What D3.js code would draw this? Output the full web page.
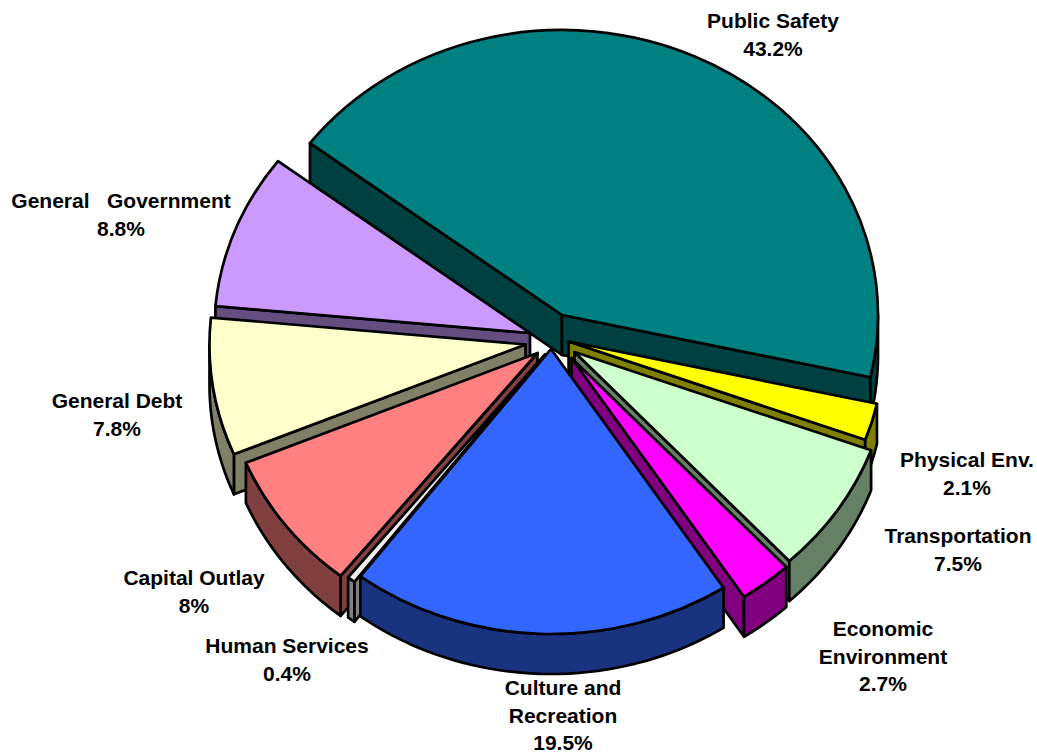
<!DOCTYPE html>
<html lang="en">

<head>
    <title>Expenditures by Function</title>
    <meta charset="UTF-8">
    <script src="https://d3js.org/d3.v7.min.js"></script>
    <style>
        body {
            margin: 0;
            background: #fff;
        }

        svg {
            display: block;
        }

        .label {
            font-family: "Liberation Sans", Arial, sans-serif;
            font-weight: bold;
            font-size: 21px;
            text-anchor: middle;
            white-space: pre;
        }

        .face {
            stroke: #000;
            stroke-width: 2.7px;
            stroke-linejoin: round;
            vector-effect: non-scaling-stroke;
        }
    </style>
</head>

<body>
    <svg width="1037" height="755"></svg>

    <script>
        // data, in pie order (clockwise from Public Safety)
        const categories = ["Public Safety", "Physical Env.", "Transportation", "Economic Environment",
            "Culture and Recreation", "Human Services", "Capital Outlay", "General Debt", "General   Government"];
        const values = [43.2, 2.1, 7.5, 2.7, 19.5, 0.4, 8, 7.8, 8.8];
        const topColors = ["#008080", "#ffff00", "#ccffcc", "#ff00ff", "#3366ff", "#eeeeee", "#ff8080", "#ffffcc", "#cc99ff"];
        const wallColors = ["#004040", "#808000", "#668066", "#800080", "#1a3380", "#808080", "#804040", "#808066", "#664d80"];

        // how far each slice is pulled out of the pie, px
        const explodeX = [14, 20.6, 26.5, 23.5, 3, -3, -10.5, -22.5, -18];
        const explodeY = [-23, 3.5, 14, 20, 11, 16.5, 15, 6.5, -5];

        // label placement: centre x, first baseline, and wrapped lines
        const labelX = [773, 967, 958, 883, 563, 287, 194, 117, 121];
        const labelY = [28, 467, 543, 636, 695, 653, 585, 408, 208];
        const labelLines = [["Public Safety"], ["Physical Env."], ["Transportation"], ["Economic", "Environment"],
            ["Culture and", "Recreation"], ["Human Services"], ["Capital Outlay"], ["General Debt"], ["General   Government"]];

        const cx = 548, cy = 338;   // pie centre
        const rx = 316, ry = 285;   // top ellipse
        const depth = 40;           // thickness of the pie
        const startAngle = -52.9 * Math.PI / 180;
        const lineHeight = 27.5;

        const svg = d3.select("svg");

        const pie = d3.pie()
            .sort(null)
            .startAngle(startAngle)
            .endAngle(startAngle + 2 * Math.PI);

        const arc = d3.arc().innerRadius(0).outerRadius(rx);
        const line = d3.line();

        const slices = pie(values).map(function (d, i) {
            return {
                start: d.startAngle,
                end: d.endAngle,
                mid: (d.startAngle + d.endAngle) / 2,
                ax: cx + explodeX[i],
                ay: cy + explodeY[i],
                i: i,
                d: d
            };
        });

        // point on the rim of a slice, at angle a
        function rim(s, a, drop) {
            return [s.ax + rx * Math.sin(a), s.ay - ry * Math.cos(a) + drop];
        }

        // flat cut face running from the apex out to the rim
        function cutFace(s, a) {
            return line([[s.ax, s.ay], rim(s, a, 0), rim(s, a, depth), [s.ax, s.ay + depth]]) + "Z";
        }

        // curved outer wall between angles a0 and a1
        function rimWall(s, a0, a1) {
            const steps = d3.range(0, 41).map(function (k) { return a0 + (a1 - a0) * k / 40; });
            const upper = steps.map(function (a) { return rim(s, a, 0); });
            const lower = steps.slice().reverse().map(function (a) { return rim(s, a, depth); });
            return line(upper.concat(lower)) + "Z";
        }

        // paint from back to front
        slices.sort(function (a, b) { return d3.ascending(-Math.cos(a.mid), -Math.cos(b.mid)); });

        slices.forEach(function (s) {
            const g = svg.append("g");
            const wall = wallColors[s.i];

            if (Math.sin(s.start) < 0) {
                g.append("path").attr("class", "face").attr("fill", wall).attr("d", cutFace(s, s.start));
            }
            if (Math.sin(s.end) > 0) {
                g.append("path").attr("class", "face").attr("fill", wall).attr("d", cutFace(s, s.end));
            }

            // only the part of the rim between 90 and 270 degrees faces the viewer
            const a0 = Math.max(s.start, Math.PI / 2);
            const a1 = Math.min(s.end, 3 * Math.PI / 2);
            if (a1 > a0) {
                g.append("path").attr("class", "face").attr("fill", wall).attr("d", rimWall(s, a0, a1));
            }

            g.append("path")
                .attr("class", "face")
                .attr("fill", topColors[s.i])
                .attr("transform", "translate(" + s.ax + "," + s.ay + ") scale(1," + (ry / rx) + ")")
                .attr("d", arc(s.d));
        });

        // labels
        categories.forEach(function (name, i) {
            const lines = labelLines[i].concat([values[i] + "%"]);
            const text = svg.append("text")
                .attr("class", "label")
                .attr("data-category", name);
            lines.forEach(function (t, k) {
                text.append("tspan")
                    .attr("x", labelX[i])
                    .attr("y", labelY[i] + k * lineHeight)
                    .text(t);
            });
        });
    </script>
</body>

</html>
